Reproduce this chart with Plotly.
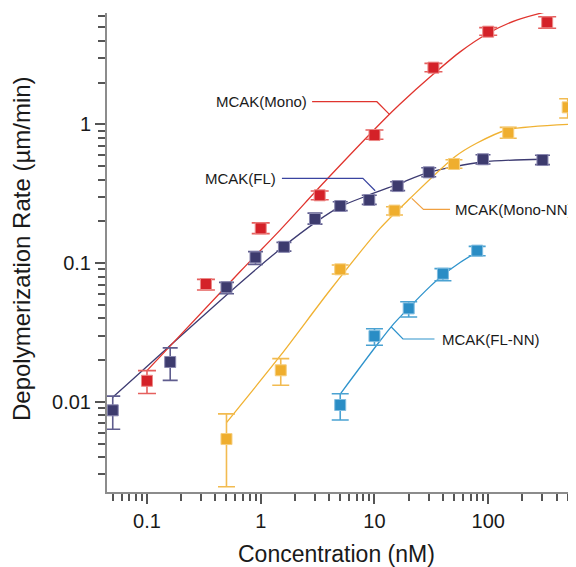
import numpy as np
import plotly.graph_objects as go

# ---------------- data ----------------
# MCAK(Mono) - red
mono_x = [0.1, 0.33, 1, 3.3, 10, 33, 100, 330]
mono_y = [0.0142, 0.0707, 0.178, 0.308, 0.837, 2.56, 4.65, 5.43]
mono_hi = [0.0168, 0.0764, 0.195, 0.331, 0.91, 2.75, 4.97, 5.96]
mono_lo = [0.0115, 0.064, 0.163, 0.286, 0.78, 2.39, 4.38, 4.92]
mono_fit_x = [0.1, 0.66, 1.48, 3.8, 12, 16.8, 33, 57, 100, 178, 327]
mono_fit_y = [0.0168, 0.087, 0.173, 0.40, 1.07, 1.4, 2.3, 3.34, 4.53, 5.64, 6.48]

# MCAK(FL) - navy
fl_x = [0.05, 0.16, 0.5, 0.9, 1.6, 3, 5, 9, 16, 30, 90, 300]
fl_y = [0.0087, 0.0194, 0.067, 0.110, 0.131, 0.208, 0.258, 0.285, 0.359, 0.451, 0.56, 0.553]
fl_hi = [0.011, 0.0245, 0.0727, 0.121, 0.141, 0.229, 0.277, 0.308, 0.386, 0.487, 0.604, 0.598]
fl_lo = [0.00635, 0.0143, 0.0602, 0.098, 0.122, 0.191, 0.239, 0.265, 0.333, 0.419, 0.518, 0.512]
fl_fit_x = [0.05, 0.66, 1.5, 3.1, 5, 9, 16, 30, 90, 300]
fl_fit_y = [0.0108, 0.072, 0.127, 0.199, 0.255, 0.31, 0.37, 0.45, 0.535, 0.56]

# MCAK(Mono-NN) - yellow
mnn_x = [0.5, 1.5, 5, 15, 50, 150, 500]
mnn_y = [0.0054, 0.0169, 0.0902, 0.239, 0.518, 0.87, 1.325]
mnn_hi = [0.0082, 0.0205, 0.0969, 0.255, 0.556, 0.951, 1.53]
mnn_lo = [0.00245, 0.0132, 0.0835, 0.222, 0.482, 0.793, 1.11]
mnn_fit_x = [0.5, 1.5, 4.08, 11.2, 20.6, 51, 79, 146, 507]
mnn_fit_y = [0.0071, 0.0217, 0.064, 0.178, 0.293, 0.584, 0.73, 0.91, 1.0]

# MCAK(FL-NN) - blue
flnn_x = [5, 10, 20, 40, 80]
flnn_y = [0.0095, 0.0298, 0.0472, 0.0839, 0.123]
flnn_hi = [0.01146, 0.0337, 0.0527, 0.0912, 0.132]
flnn_lo = [0.0074, 0.0256, 0.0409, 0.0747, 0.113]
flnn_fit_x = [5, 10.5, 14.2, 19.5, 30.9, 39.6, 56.6, 79.4]
flnn_fit_y = [0.0114, 0.0257, 0.0352, 0.0465, 0.068, 0.0815, 0.101, 0.12]

x_tickvals = [0.1, 1, 10, 100]
x_ticktext = ["0.1", "1", "10", "100"]
y_tickvals = [0.01, 0.1, 1]
y_ticktext = ["0.01", "0.1", "1"]

# ---------------- styling / label layout ----------------
series = [
    dict(name="MCAK(FL)", x=fl_x, y=fl_y, hi=fl_hi, lo=fl_lo, fx=fl_fit_x, fy=fl_fit_y,
         c="#3d3b6e", err="#5f5d8e", edge="#8a88b0", line="#3d3b72", w=7.5),
    dict(name="MCAK(Mono)", x=mono_x, y=mono_y, hi=mono_hi, lo=mono_lo, fx=mono_fit_x, fy=mono_fit_y,
         c="#d42128", err="#e5605e", edge="#ec8a88", line="#e0342e", w=9),
    dict(name="MCAK(Mono-NN)", x=mnn_x, y=mnn_y, hi=mnn_hi, lo=mnn_lo, fx=mnn_fit_x, fy=mnn_fit_y,
         c="#efae2e", err="#f2bb50", edge="#f6cf80", line="#f0b233", w=8.5),
    dict(name="MCAK(FL-NN)", x=flnn_x, y=flnn_y, hi=flnn_hi, lo=flnn_lo, fx=flnn_fit_x, fy=flnn_fit_y,
         c="#2a8dc5", err="#4aa2d2", edge="#80bde0", line="#2e93cc", w=8.5),
]

# leader lines (label connectors) and label anchors
leaders = [
    dict(text="MCAK(Mono)", lx=[2.83, 10.5, 13.55], ly=[1.455, 1.455, 1.18], color="#e0342e",
         tx=2.67, ty=1.455, anchor="right"),
    dict(text="MCAK(FL)", lx=[1.536, 7.91, 10.15], ly=[0.408, 0.408, 0.332], color="#3a44a0",
         tx=1.425, ty=0.408, anchor="right"),
    dict(text="MCAK(Mono-NN)", lx=[21.3, 26.96, 46.2], ly=[0.293, 0.244, 0.244], color="#f0a040",
         tx=49.2, ty=0.244, anchor="left"),
    dict(text="MCAK(FL-NN)", lx=[14.0, 17.8, 33.7], ly=[0.0348, 0.0284, 0.0284], color="#2e93cc",
         tx=37.4, ty=0.0284, anchor="left"),
]

fig = go.Figure()

for s in series:
    fig.add_trace(go.Scatter(
        x=s["fx"], y=s["fy"], mode="lines", line=dict(color=s["line"], width=1.3, shape="spline", smoothing=0.8),
        showlegend=False, hoverinfo="skip"))

for s in series:
    plus = [h - v for h, v in zip(s["hi"], s["y"])]
    minus = [v - l for v, l in zip(s["y"], s["lo"])]
    fig.add_trace(go.Scatter(
        x=s["x"], y=s["y"], mode="markers", name=s["name"],
        marker=dict(symbol="square", size=11, color=s["c"], line=dict(color=s["edge"], width=1)),
        error_y=dict(type="data", symmetric=False, array=plus, arrayminus=minus,
                     color=s["err"], thickness=1.6, width=s["w"]),
        showlegend=False))

for L in leaders:
    fig.add_trace(go.Scatter(x=L["lx"], y=L["ly"], mode="lines",
                             line=dict(color=L["color"], width=1.2),
                             showlegend=False, hoverinfo="skip"))
    fig.add_annotation(x=np.log10(L["tx"]), y=np.log10(L["ty"]), xref="x", yref="y",
                       text=L["text"], showarrow=False, xanchor=L["anchor"], yanchor="middle",
                       font=dict(size=15, color="#1a1a1a", family="Liberation Sans, Arial, sans-serif"))

minor_x = [m * 10.0 ** e for e in range(-2, 3) for m in range(2, 10)]
minor_y = [m * 10.0 ** e for e in range(-3, 1) for m in range(2, 10)]

axis_common = dict(
    type="log", showgrid=False, zeroline=False, showline=True, linecolor="#8c8c8c", linewidth=2,
    ticks="outside", ticklen=10, tickwidth=1.5, tickcolor="#555555",
    tickfont=dict(size=20, color="#1a1a1a", family="Liberation Sans, Arial, sans-serif"),
    tickmode="array",
)

# the page body adds an 8px offset, so margins are set relative to that
fig.update_layout(
    width=576, height=567,
    margin=dict(l=99, r=8, t=5, b=83),
    paper_bgcolor="white", plot_bgcolor="white",
    font=dict(family="Liberation Sans, Arial, sans-serif"),
    xaxis=dict(**axis_common, range=[-1.3515, 2.772], tickvals=x_tickvals, ticktext=x_ticktext,
               minor=dict(tickmode="array", tickvals=minor_x, ticks="outside", ticklen=7,
                          tickwidth=1.5, tickcolor="#555555")),
    yaxis=dict(**axis_common, range=[-2.649, 0.802], tickvals=y_tickvals, ticktext=y_ticktext,
               minor=dict(tickmode="array", tickvals=minor_y, ticks="outside", ticklen=7,
                          tickwidth=1.5, tickcolor="#555555")),
)

fig.add_annotation(xref="paper", yref="paper", x=(22 - 107) / 469, y=(492 - 249) / 479,
                   text="Depolymerization Rate (µm/min)", textangle=-90, showarrow=False,
                   xanchor="center", yanchor="middle",
                   font=dict(size=24, color="#1a1a1a"))
fig.add_annotation(xref="paper", yref="paper", x=(336 - 107) / 469, y=-(539 - 492) / 479,
                   text="Concentration (nM)", showarrow=False, xanchor="center", yanchor="top",
                   font=dict(size=23, color="#1a1a1a"))

fig.write_html("out.html")
